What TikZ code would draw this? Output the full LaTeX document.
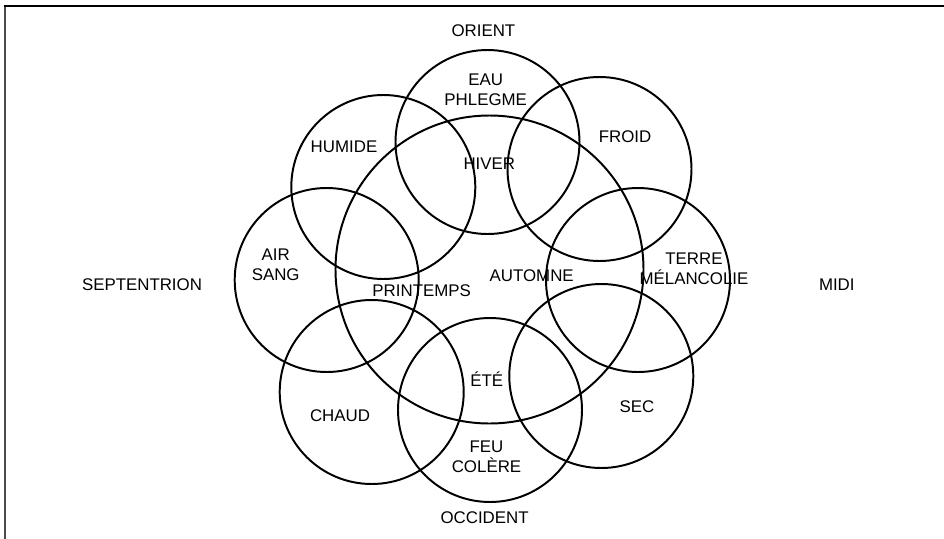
\documentclass[tikz,border=0pt]{standalone}
\usepackage{fontspec}
\setmainfont{Liberation Sans}
\usepackage{tikz}
\usetikzlibrary{positioning,shapes}

\begin{document}
\begin{tikzpicture}[scale=0.25,
	ring/.style={circle,draw=black,line width=1.4pt,minimum size=4.6cm},
	bigring/.style={ring,minimum size=7.7cm},
	lbl/.style={text height=8.6pt,text depth=0pt},
	lbltwo/.style={align=center}]
	\fontsize{12}{13.9}\selectfont
	\tikzstyle{every node}+=[inner sep=0pt]
	\useasboundingbox (0,0) rectangle (94.4,-53.9);
	% frame
	\draw [black!70,line width=1.3pt] (0.5,-0.6) -- (0.5,-53.9);
	\draw [black,line width=0.9pt] (0.4,-0.6) -- (94.4,-0.6);
	% circles
	\node[bigring] (saisons) at (48.95,-26.95) {};
	\node[ring] (eau) at (48.75,-14.2) {};
	\node[ring] (humide) at (38.33,-18.7) {};
	\node[ring] (froid) at (59.95,-16.9) {};
	\node[ring] (air) at (32.67,-28.0) {};
	\node[ring] (terre) at (63.8,-28.0) {};
	\node[ring] (chaud) at (37.17,-39.2) {};
	\node[ring] (sec) at (60.13,-37.6) {};
	\node[ring] (feu) at (49.0,-41.0) {};
	% points cardinaux
	\node[lbl] (orient) at (48.34,-3.03) {ORIENT};
	\node[lbl] (occident) at (48.46,-51.74) {OCCIDENT};
	\node[lbl] (septentrion) at (14.2,-28.4) {SEPTENTRION};
	\node[lbl] (midi) at (83.68,-28.4) {MIDI};
	% elements, humeurs, qualites
	\node[lbltwo] (eautxt) at (48.57,-8.97) {EAU\\PHLEGME};
	\node[lbltwo] (airtxt) at (27.57,-26.5) {AIR\\SANG};
	\node[lbltwo] (terretxt) at (69.4,-26.88) {TERRE\\MÉLANCOLIE};
	\node[lbltwo] (feutxt) at (48.65,-45.67) {FEU\\COLÈRE};
	\node[lbl] (humidetxt) at (34.4,-14.6) {HUMIDE};
	\node[lbl] (froidtxt) at (62.5,-13.67) {FROID};
	\node[lbl] (chaudtxt) at (34.0,-41.5) {CHAUD};
	\node[lbl] (sectxt) at (63.7,-40.67) {SEC};
	% saisons
	\node[lbl] (hiver) at (48.93,-16.33) {HIVER};
	\node[lbl] (printemps) at (42.17,-29.07) {PRINTEMPS};
	\node[lbl] (automne) at (53.17,-27.5) {AUTOMNE};
	\node[lbl] (ete) at (48.67,-38.0) {ÉTÉ};
\end{tikzpicture}
\end{document}
